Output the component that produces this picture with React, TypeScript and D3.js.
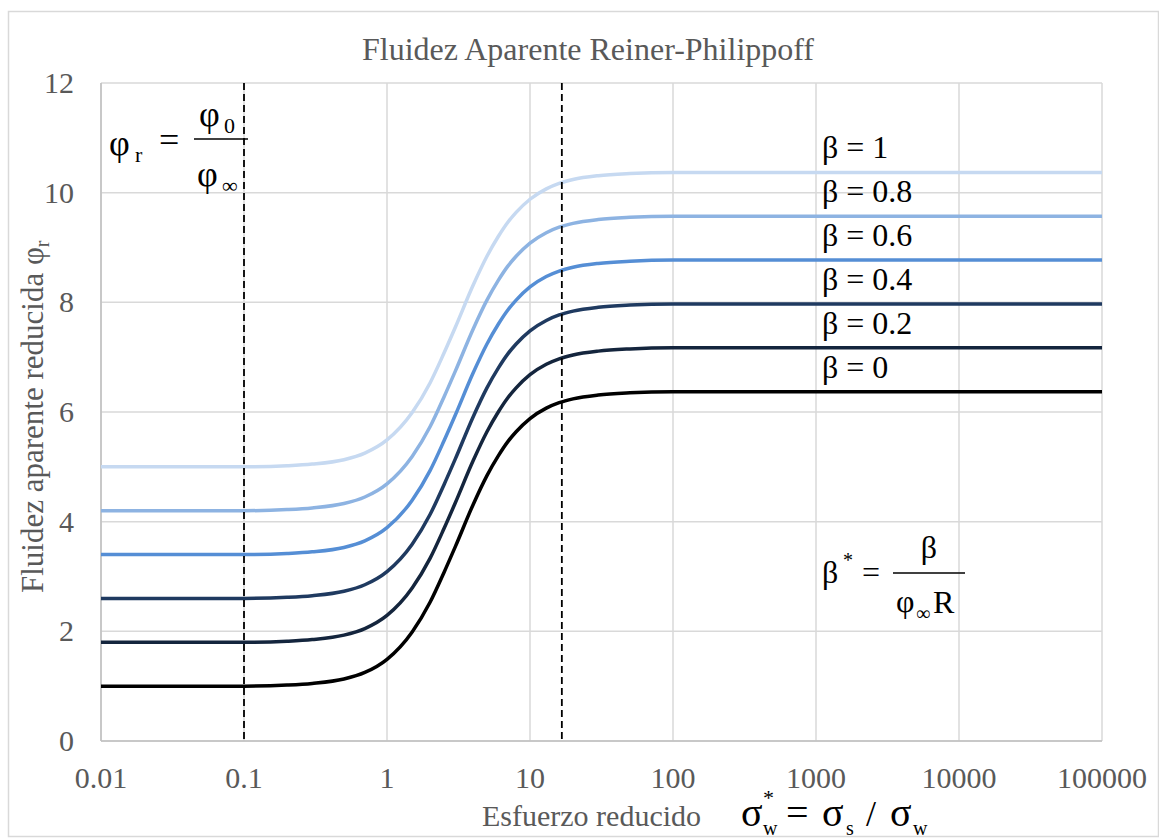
import React from "react";
import * as d3 from "d3";

const xValues = [0.01, 0.03, 0.1, 0.2, 0.3, 0.5, 0.7, 1, 1.5, 2, 2.5, 3, 4, 5, 6, 7, 8, 10, 13, 16, 20, 30, 50, 100, 300, 1000, 10000, 100000];

const beta00 = [1.00, 1.00, 1.00, 1.02, 1.05, 1.13, 1.25, 1.49, 1.99, 2.53, 3.07, 3.54, 4.31, 4.84, 5.20, 5.46, 5.64, 5.88, 6.07, 6.17, 6.24, 6.31, 6.35, 6.37, 6.37, 6.37, 6.37, 6.37];
const beta02 = [1.80, 1.80, 1.80, 1.82, 1.85, 1.93, 2.05, 2.29, 2.79, 3.33, 3.87, 4.34, 5.11, 5.64, 6.00, 6.26, 6.44, 6.68, 6.87, 6.97, 7.04, 7.11, 7.15, 7.17, 7.17, 7.17, 7.17, 7.17];
const beta04 = [2.60, 2.60, 2.60, 2.62, 2.65, 2.73, 2.85, 3.09, 3.59, 4.13, 4.67, 5.14, 5.91, 6.44, 6.80, 7.06, 7.24, 7.48, 7.67, 7.77, 7.84, 7.91, 7.95, 7.97, 7.97, 7.97, 7.97, 7.97];
const beta06 = [3.40, 3.40, 3.40, 3.42, 3.45, 3.53, 3.65, 3.89, 4.39, 4.93, 5.47, 5.94, 6.71, 7.24, 7.60, 7.86, 8.04, 8.28, 8.47, 8.57, 8.64, 8.71, 8.75, 8.77, 8.77, 8.77, 8.77, 8.77];
const beta08 = [4.20, 4.20, 4.20, 4.22, 4.25, 4.33, 4.45, 4.69, 5.19, 5.73, 6.27, 6.74, 7.51, 8.04, 8.40, 8.66, 8.84, 9.08, 9.27, 9.37, 9.44, 9.51, 9.55, 9.57, 9.57, 9.57, 9.57, 9.57];
const beta10 = [5.00, 5.00, 5.00, 5.02, 5.05, 5.13, 5.25, 5.49, 5.99, 6.53, 7.07, 7.54, 8.31, 8.84, 9.20, 9.46, 9.64, 9.88, 10.07, 10.17, 10.24, 10.31, 10.35, 10.37, 10.37, 10.37, 10.37, 10.37];

const seriesLabels = ["β = 0", "β = 0.2", "β = 0.4", "β = 0.6", "β = 0.8", "β = 1"];
const seriesValues = [beta00, beta02, beta04, beta06, beta08, beta10];
const seriesColors = ["#000000", "#14253d", "#1f3a60", "#558ed5", "#8db3e2", "#c6d9f1"];

const xTicks = [0.01, 0.1, 1, 10, 100, 1000, 10000, 100000];
const xTickLabels = ["0.01", "0.1", "1", "10", "100", "1000", "10000", "100000"];
const yTicks = [0, 2, 4, 6, 8, 10, 12];
const dashedX = [0.1, 16.7];

const TITLE = "Fluidez Aparente Reiner-Philippoff";
const XTITLE = "Esfuerzo reducido";
const YTITLE = "Fluidez aparente reducida φ";

const W = 1159;
const H = 838;
const PL = 101, PR = 1102, PT = 83, PB = 741;
const GRAY = "#595959";
const FONT = "'Liberation Serif', 'Times New Roman', serif";

export default function App() {
  const x = d3.scaleLog().domain([0.01, 100000]).range([PL, PR]);
  const y = d3.scaleLinear().domain([0, 12]).range([PB, PT]);
  const line = d3
    .line<[number, number]>()
    .x((d) => x(d[0]))
    .y((d) => y(d[1]))
    .curve(d3.curveMonotoneX);

  return (
    <svg
      width={W}
      height={H}
      style={{ position: "absolute", left: 0, top: 0, background: "#fff" }}
      fontFamily={FONT}
    >
      <rect x={8.5} y={11.5} width={1150} height={825} fill="#fff" stroke="#d9d9d9" strokeWidth={1.5} />

      {/* gridlines */}
      {yTicks.map((t) => (
        <line key={"gy" + t} x1={PL} x2={PR} y1={y(t)} y2={y(t)} stroke="#d9d9d9" strokeWidth={1.5} />
      ))}
      {xTicks.map((t) => (
        <line key={"gx" + t} x1={x(t)} x2={x(t)} y1={PT} y2={PB} stroke="#d9d9d9" strokeWidth={1.5} />
      ))}
      <line x1={PL} x2={PL} y1={PT} y2={PB} stroke="#bfbfbf" strokeWidth={1.5} />
      <line x1={PL} x2={PR} y1={PB} y2={PB} stroke="#bfbfbf" strokeWidth={1.5} />

      {/* series */}
      {seriesValues.map((vals, i) => (
        <path
          key={"s" + i}
          d={line(xValues.map((xv, j) => [xv, vals[j]] as [number, number])) || ""}
          fill="none"
          stroke={seriesColors[i]}
          strokeWidth={3.5}
        />
      ))}

      {/* dashed lines */}
      {dashedX.map((d) => (
        <line key={"d" + d} x1={x(d)} x2={x(d)} y1={PT} y2={PB} stroke="#000" strokeWidth={1.8} strokeDasharray="7,4" />
      ))}

      {/* axis tick labels */}
      {xTicks.map((t, i) => (
        <text key={"xl" + t} x={x(t)} y={788} textAnchor="middle" fontSize={30} fill={GRAY}>
          {xTickLabels[i]}
        </text>
      ))}
      {yTicks.map((t) => (
        <text key={"yl" + t} x={74} y={y(t) + 10} textAnchor="end" fontSize={30} fill={GRAY}>
          {t}
        </text>
      ))}

      {/* title */}
      <text x={588} y={60} textAnchor="middle" fontSize={32} fill={GRAY}>
        {TITLE}
      </text>

      {/* y title */}
      <text transform="translate(43,593) rotate(-90)" fontSize={31} fill={GRAY}>
        {YTITLE}
        <tspan fontSize={20} dy={6}>r</tspan>
      </text>

      {/* x title */}
      <text x={482} y={826} fontSize={30} fill={GRAY}>
        {XTITLE}
      </text>
      <g fill="#000" fontSize={40}>
        <text x={741} y={826}>σ</text>
        <text x={763} y={805} fontSize={22}>*</text>
        <text x={763} y={835} fontSize={20}>w</text>
        <text x={786} y={826}>=</text>
        <text x={822} y={826}>σ</text>
        <text x={846} y={835} fontSize={20}>s</text>
        <text x={866} y={826} fontSize={36}>/</text>
        <text x={890} y={826}>σ</text>
        <text x={913} y={835} fontSize={20}>w</text>
      </g>

      {/* beta labels */}
      {seriesValues.map((vals, i) => (
        <text key={"bl" + i} x={822} y={y(vals[vals.length - 1]) - 14} fontSize={32} fill="#000">
          {seriesLabels[i]}
        </text>
      ))}

      {/* phi_r annotation */}
      <g fill="#000" fontSize={36}>
        <text x={109} y={155}>φ</text>
        <text x={135} y={162} fontSize={22}>r</text>
        <text x={159} y={152}>=</text>
        <line x1={194} x2={248} y1={139} y2={139} stroke="#000" strokeWidth={1.5} />
        <text x={199} y={126}>φ</text>
        <text x={224} y={133} fontSize={22}>0</text>
        <text x={197} y={186}>φ</text>
        <text x={222} y={193} fontSize={22}>∞</text>
      </g>

      {/* beta* annotation */}
      <g fill="#000" fontSize={32}>
        <text x={822} y={583}>β</text>
        <text x={843} y={567} fontSize={20}>*</text>
        <text x={862} y={583}>=</text>
        <line x1={893} x2={965} y1={573} y2={573} stroke="#000" strokeWidth={1.5} />
        <text x={929} y={558} textAnchor="middle">β</text>
        <text x={896} y={612}>φ</text>
        <text x={916} y={620} fontSize={20}>∞</text>
        <text x={933} y={613}>R</text>
      </g>
    </svg>
  );
}
